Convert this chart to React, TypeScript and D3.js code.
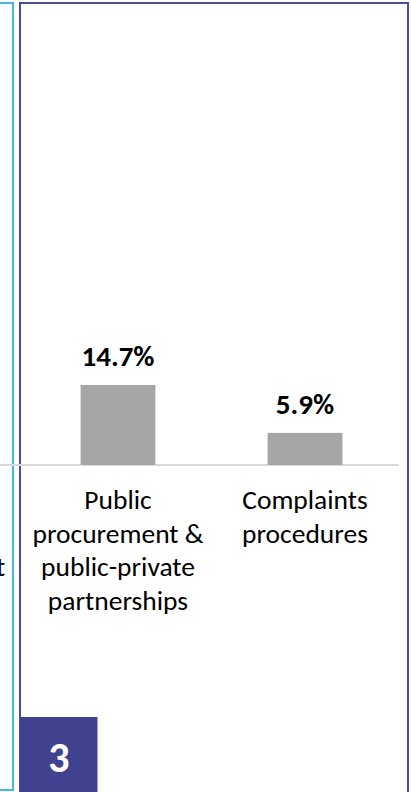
import React from "react";
import * as d3 from "d3";

const categories = ["Human resources management", "Public procurement & public-private partnerships", "Complaints procedures"];
const labelLines = [
  ["Human", "resources", "management"],
  ["Public", "procurement &", "public-private", "partnerships"],
  ["Complaints", "procedures"],
];
const values = [20.6, 14.7, 5.9];
const valueLabels = ["20.6%", "14.7%", "5.9%"];
const panelNumber = "3";

const W = 411;
const H = 792;
const FONT = "Carlito, Calibri, Lato, sans-serif";

export default function App() {
  const x = d3.scalePoint<string>().domain(categories).range([-162.5, 398.5]).padding(0.5);
  const step = x.step();
  const barW = step * 0.4;
  const baseY = 465;
  const y = d3.scaleLinear().domain([0, 25]).range([baseY, baseY - 136]);

  return (
    <svg width={W} height={H} style={{ position: "absolute", left: 0, top: 0, overflow: "hidden" }} fontFamily={FONT}>
      <rect width={W} height={H} fill="#fff" />
      {/* left (previous) panel frame */}
      <path d={`M-10,3 H13 V790 H-10`} fill="none" stroke="#41b7e4" strokeWidth={2} />
      {/* current panel frame */}
      <path d={`M20,800 V3 H408 V800`} fill="none" stroke="#4a4b9c" strokeWidth={2} />
      {/* axis line */}
      <line x1={0} x2={x.range()[1]} y1={baseY} y2={baseY} stroke="#d9d9d9" strokeWidth={2} />
      {categories.map((c, i) => {
        const cx = x(c)!;
        return (
          <g key={c}>
            <rect x={cx - barW / 2} y={y(values[i])} width={barW} height={baseY - y(values[i])} fill="#a6a6a6" />
            <text x={cx} y={y(values[i]) - 19} textAnchor="middle" fontWeight="bold" fontSize={29} fill="#000">
              {valueLabels[i]}
            </text>
            <text textAnchor="middle" fontSize={27.5} fill="#000">
              {labelLines[i].map((l, j) => (
                <tspan key={j} x={cx} y={509 + j * 33.5}>{l}</tspan>
              ))}
            </text>
          </g>
        );
      })}
      <rect x={20} y={717} width={77.5} height={80} fill="#404290" />
      <text x={59} y={771.5} textAnchor="middle" fontWeight="bold" fontSize={42} fill="#fff">{panelNumber}</text>
    </svg>
  );
}
